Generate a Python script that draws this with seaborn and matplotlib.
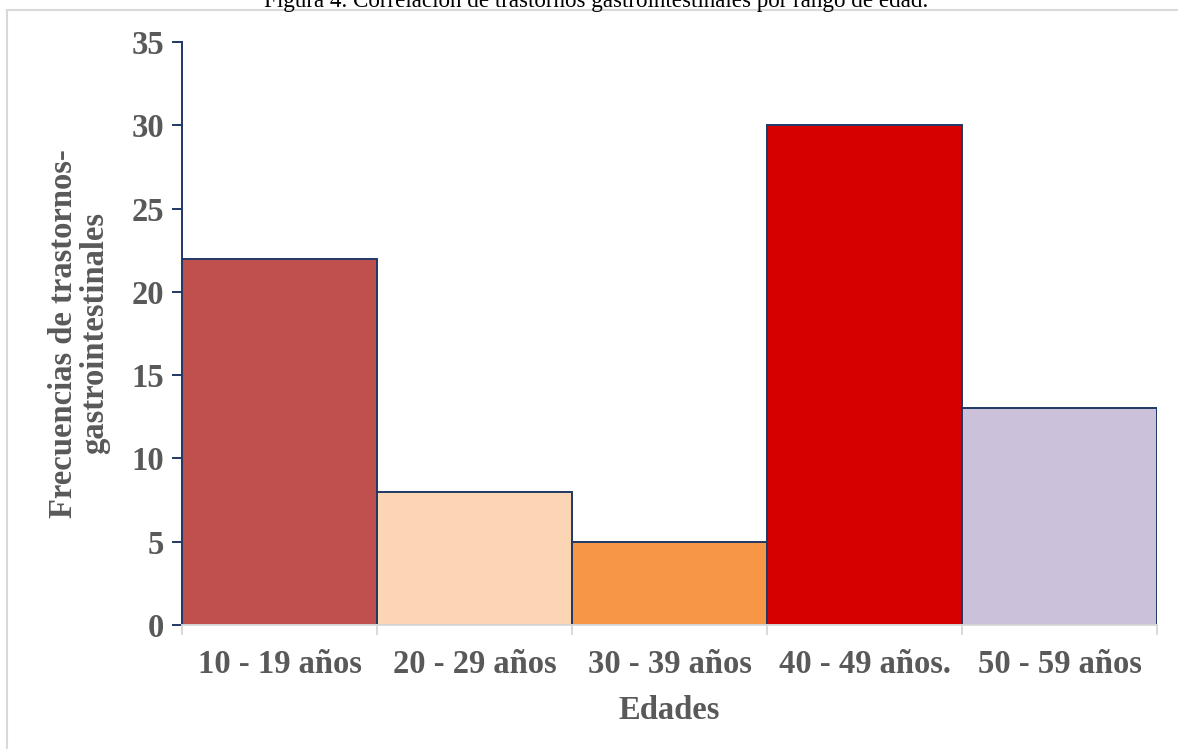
import matplotlib
matplotlib.use("Agg")
import matplotlib.pyplot as plt
from matplotlib.patches import Rectangle
import seaborn as sns

# Age groups and frequency of gastrointestinal disorders
edades = ["10 - 19 años", "20 - 29 años", "30 - 39 años", "40 - 49 años.", "50 - 59 años"]
frecuencias = [22, 8, 5, 30, 13]
colores = ["#C0504D", "#FCD5B5", "#F79646", "#D60000", "#CCC1DA"]
yticks = [0, 5, 10, 15, 20, 25, 30, 35]

sns.set_theme(style="white")
plt.rcParams["font.family"] = ["Liberation Serif", "DejaVu Serif"]

W, H = 1178, 749
fig = plt.figure(figsize=(W / 100, H / 100), dpi=100)
ax = fig.add_axes([182 / W, 1 - 625 / H, (1157 - 182) / W, (625 - 42) / H])

navy = "#1F3864"
text_grey = "#595959"
fs = 23.5

sns.barplot(x=edades, y=frecuencias, hue=edades, palette=colores, width=1.0,
            saturation=1, edgecolor=navy, linewidth=1.4, legend=False, ax=ax)

ax.set_xlim(-0.5, len(edades) - 0.5)
ax.set_ylim(0, 35)
ax.set_yticks(yticks)
ax.set_yticklabels([str(t) for t in yticks])

# Spines: navy value axis, light grey category axis
for s in ["top", "right"]:
    ax.spines[s].set_visible(False)
ax.spines["left"].set_color(navy)
ax.spines["left"].set_linewidth(1.4)
ax.spines["bottom"].set_color("#D9D9D9")
ax.spines["bottom"].set_linewidth(1.4)

ax.tick_params(axis="y", direction="out", length=7, width=1.4, color=navy,
               labelsize=fs, labelcolor=text_grey, pad=6, left=True)
# category ticks sit between bars
ax.set_xticks([i - 0.5 for i in range(len(edades) + 1)], minor=True)
ax.tick_params(axis="x", which="minor", direction="out", length=7, width=1.4,
               color="#D9D9D9", bottom=True)
ax.tick_params(axis="x", which="major", length=0, labelsize=fs,
               labelcolor=text_grey, pad=17)
for lbl in ax.get_xticklabels() + ax.get_yticklabels():
    lbl.set_fontweight("bold")

ax.set_xlabel("Edades", fontsize=fs, fontweight="bold", color=text_grey, labelpad=11)
ax.set_ylabel("Frecuencias de trastornos-\ngastrointestinales", fontsize=fs,
              fontweight="bold", color=text_grey, linespacing=1.0)
ax.yaxis.set_label_coords(-0.074, 0.5)

# Chart frame and caption
fig.patches.append(Rectangle((7 / W, -0.1), 1.2, 1 - 10 / H + 0.1,
                             transform=fig.transFigure, fill=False,
                             edgecolor="#D9D9D9", linewidth=1.5))
fig.text(596 / W, 1 - 7 / H,
         "Figura 4. Correlación de trastornos gastrointestinales por rango de edad.",
         ha="center", va="baseline", fontsize=16.6, color="black")

fig.savefig("out.png", dpi=100)
